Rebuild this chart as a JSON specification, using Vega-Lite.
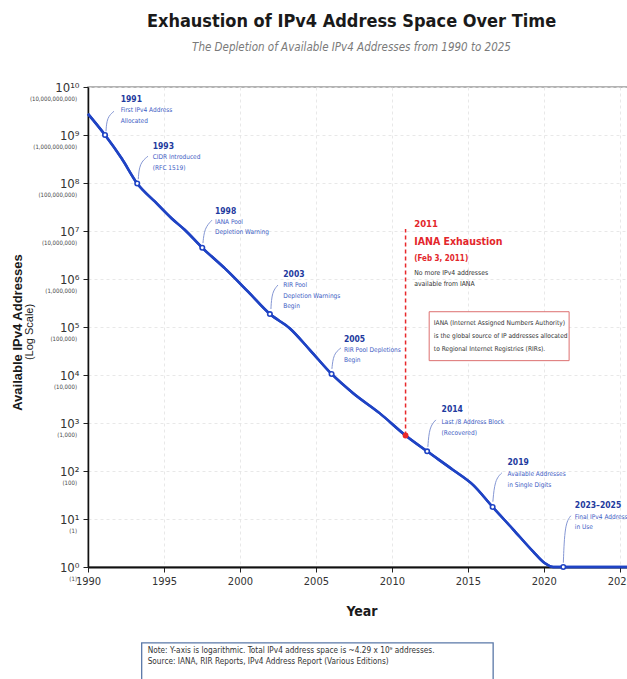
{
  "$schema": "https://vega.github.io/schema/vega-lite/v6.json",
  "width": 547,
  "height": 480,
  "autosize": "none",
  "padding": {"left": 88, "top": 87, "right": 0, "bottom": 112},
  "background": "white",
  "config": {
    "font": "Liberation Sans Narrow, DejaVu Sans Condensed, Liberation Sans, sans-serif",
    "view": {"stroke": "#9a9a9a", "strokeWidth": 1.5}
  },
  "title": {
    "text": "Exhaustion of IPv4 Address Space Over Time",
    "subtitle": "The Depletion of Available IPv4 Addresses from 1990 to 2025",
    "font": "Liberation Sans Narrow, DejaVu Sans Condensed, Liberation Sans, sans-serif",
    "subtitleFont": "Liberation Sans Narrow, DejaVu Sans Condensed, Liberation Sans, sans-serif",
    "fontSize": 18,
    "fontWeight": "bold",
    "color": "#1a1a1a",
    "subtitleFontSize": 11.5,
    "subtitleFontStyle": "italic",
    "subtitleColor": "#7a7a7a",
    "subtitlePadding": 11,
    "anchor": "middle",
    "frame": "group",
    "offset": 28,
    "dx": -10
  },
  "datasets": {
    "line": [
      {"year": 1990, "value": 2.75e9},
      {"year": 1991.12, "value": 1.0e9},
      {"year": 1992.22, "value": 3.24e8},
      {"year": 1993.24, "value": 9.77e7},
      {"year": 1994.41, "value": 4.07e7},
      {"year": 1995.51, "value": 1.82e7},
      {"year": 1996.38, "value": 1.05e7},
      {"year": 1997.52, "value": 4.47e6},
      {"year": 1999.01, "value": 1.66e6},
      {"year": 2000.55, "value": 5.37e5},
      {"year": 2001.97, "value": 1.86e5},
      {"year": 2003.29, "value": 9.33e4},
      {"year": 2004.61, "value": 3.31e4},
      {"year": 2006.03, "value": 1.05e4},
      {"year": 2007.45, "value": 4170},
      {"year": 2009.21, "value": 1585},
      {"year": 2010.9, "value": 550},
      {"year": 2012.32, "value": 257},
      {"year": 2014.03, "value": 105},
      {"year": 2015.34, "value": 51.3},
      {"year": 2016.63, "value": 17.8},
      {"year": 2017.99, "value": 6.03},
      {"year": 2019.3, "value": 2.09},
      {"year": 2020.07, "value": 1.2},
      {"year": 2020.62, "value": 1},
      {"year": 2021.28, "value": 1},
      {"year": 2026, "value": 1}
    ],
    "markers": [
      {"year": 1991.12, "value": 1.0e9, "kind": "event"},
      {"year": 1993.24, "value": 9.77e7, "kind": "event"},
      {"year": 1997.52, "value": 4.47e6, "kind": "event"},
      {"year": 2001.97, "value": 1.86e5, "kind": "event"},
      {"year": 2006.03, "value": 1.05e4, "kind": "event"},
      {"year": 2010.9, "value": 550, "kind": "exhaustion"},
      {"year": 2012.32, "value": 257, "kind": "event"},
      {"year": 2016.63, "value": 17.8, "kind": "event"},
      {"year": 2021.28, "value": 1, "kind": "event"}
    ],
    "leaders": [
      {"id": 1, "ord": 1, "year": 1991.184, "value": 1.197e9},
      {"id": 1, "ord": 2, "year": 1991.25, "value": 2.34e9},
      {"id": 1, "ord": 3, "year": 1991.711, "value": 3.12e9},
      {"id": 2, "ord": 1, "year": 1993.309, "value": 1.2e8},
      {"id": 2, "ord": 2, "year": 1993.388, "value": 2.58e8},
      {"id": 2, "ord": 3, "year": 1993.947, "value": 3.61e8},
      {"id": 3, "ord": 1, "year": 1997.566, "value": 5.6e6},
      {"id": 3, "ord": 2, "year": 1997.664, "value": 1.15e7},
      {"id": 3, "ord": 3, "year": 1998.158, "value": 1.68e7},
      {"id": 4, "ord": 1, "year": 2002.039, "value": 2.37e5},
      {"id": 4, "ord": 2, "year": 2002.105, "value": 5.35e5},
      {"id": 4, "ord": 3, "year": 2002.5, "value": 7.48e5},
      {"id": 5, "ord": 1, "year": 2006.053, "value": 1.34e4},
      {"id": 5, "ord": 2, "year": 2006.151, "value": 2.74e4},
      {"id": 5, "ord": 3, "year": 2006.645, "value": 3.66e4},
      {"id": 7, "ord": 1, "year": 2012.368, "value": 318},
      {"id": 7, "ord": 2, "year": 2012.467, "value": 830},
      {"id": 7, "ord": 3, "year": 2012.895, "value": 1161},
      {"id": 8, "ord": 1, "year": 2016.645, "value": 22.9},
      {"id": 8, "ord": 2, "year": 2016.776, "value": 65.5},
      {"id": 8, "ord": 3, "year": 2017.237, "value": 91.6},
      {"id": 9, "ord": 1, "year": 2021.283, "value": 1.229},
      {"id": 9, "ord": 2, "year": 2021.382, "value": 7.96},
      {"id": 9, "ord": 3, "year": 2021.776, "value": 11.7}
    ],
    "ylabels": [
      {"value": 1e10, "t": "(10,000,000,000)"},
      {"value": 1e9, "t": "(1,000,000,000)"},
      {"value": 1e8, "t": "(100,000,000)"},
      {"value": 1e7, "t": "(10,000,000)"},
      {"value": 1e6, "t": "(1,000,000)"},
      {"value": 1e5, "t": "(100,000)"},
      {"value": 1e4, "t": "(10,000)"},
      {"value": 1e3, "t": "(1,000)"},
      {"value": 1e2, "t": "(100)"},
      {"value": 1e1, "t": "(1)"},
      {"value": 1, "t": "(1)"}
    ],
    "boxes": [
      {"kind": "info", "x": 2012.454, "x2": 2021.664, "y": 2.08e5, "y2": 1.99e4},
      {"kind": "note", "x": 1993.533, "x2": 2016.664, "y": 0.02623, "y2": 0.0028}
    ],
    "ann": [
      {"k": "yr", "x": 1992.151, "y": 5.55e9, "t": "1991"},
      {"k": "ds", "x": 1992.151, "y": 3.27e9, "t": "First IPv4 Address"},
      {"k": "ds", "x": 1992.151, "y": 1.96e9, "t": "Allocated"},
      {"k": "yr", "x": 1994.257, "y": 5.92e8, "t": "1993"},
      {"k": "ds", "x": 1994.257, "y": 3.4e8, "t": "CIDR Introduced"},
      {"k": "ds", "x": 1994.257, "y": 2.06e8, "t": "(RFC 1519)"},
      {"k": "yr", "x": 1998.355, "y": 2.63e7, "t": "1998"},
      {"k": "ds", "x": 1998.355, "y": 1.55e7, "t": "IANA Pool"},
      {"k": "ds", "x": 1998.355, "y": 9.34e6, "t": "Depletion Warning"},
      {"k": "yr", "x": 2002.849, "y": 1.27e6, "t": "2003"},
      {"k": "ds", "x": 2002.849, "y": 7.48e5, "t": "RIR Pool"},
      {"k": "ds", "x": 2002.849, "y": 4.48e5, "t": "Depletion Warnings"},
      {"k": "ds", "x": 2002.849, "y": 2.74e5, "t": "Begin"},
      {"k": "yr", "x": 2006.842, "y": 5.62e4, "t": "2005"},
      {"k": "ds", "x": 2006.842, "y": 3.32e4, "t": "RIR Pool Depletions"},
      {"k": "ds", "x": 2006.842, "y": 2.06e4, "t": "Begin"},
      {"k": "yr", "x": 2013.27, "y": 1967, "t": "2014"},
      {"k": "ds", "x": 2013.27, "y": 1071, "t": "Last /8 Address Block"},
      {"k": "ds", "x": 2013.27, "y": 632, "t": "(Recovered)"},
      {"k": "yr", "x": 2017.612, "y": 157.5, "t": "2019"},
      {"k": "ds", "x": 2017.612, "y": 86.1, "t": "Available Addresses"},
      {"k": "ds", "x": 2017.612, "y": 51.6, "t": "in Single Digits"},
      {"k": "yr", "x": 2022.039, "y": 19.8, "t": "2023–2025"},
      {"k": "ds", "x": 2022.039, "y": 10.97, "t": "Final IPv4 Addresses"},
      {"k": "ds", "x": 2022.039, "y": 6.8, "t": "in Use"},
      {"k": "r1", "x": 2011.467, "y": 1.37e7, "t": "2011"},
      {"k": "r2", "x": 2011.467, "y": 5.78e6, "t": "IANA Exhaustion"},
      {"k": "r3", "x": 2011.467, "y": 2.6e6, "t": "(Feb 3, 2011)"},
      {"k": "dk", "x": 2011.467, "y": 1.35e6, "t": "No more IPv4 addresses"},
      {"k": "dk", "x": 2011.467, "y": 7.73e5, "t": "available from IANA"},
      {"k": "bx", "x": 2012.763, "y": 1.19e5, "t": "IANA (Internet Assigned Numbers Authority)"},
      {"k": "bx", "x": 2012.763, "y": 6.5e4, "t": "is the global source of IP addresses allocated"},
      {"k": "bx", "x": 2012.763, "y": 3.53e4, "t": "to Regional Internet Registries (RIRs)."},
      {"k": "nt", "x": 1993.928, "y": 0.01754, "t": "Note: Y-axis is logarithmic. Total IPv4 address space is ~4.29 x 10⁹ addresses."},
      {"k": "nt", "x": 1993.928, "y": 0.01055, "t": "Source: IANA, RIR Reports, IPv4 Address Report (Various Editions)"}
    ],
    "exh": [
      {"year": 2010.9, "value": 550, "top": 1.1e7}
    ],
    "ytitle": [
      {"t": "(Log Scale)"}
    ]
  },
  "layer": [
    {
      "data": {"name": "line"},
      "mark": {"type": "line", "color": "#1f43c4", "strokeWidth": 2.5, "interpolate": "monotone"},
      "encoding": {
        "x": {
          "field": "year",
          "type": "quantitative",
          "scale": {"domain": [1990, 2026], "nice": false, "zero": false},
          "axis": {
            "values": [1990, 1995, 2000, 2005, 2010, 2015, 2020, 2025],
            "format": "d",
            "title": "Year",
            "titleFontSize": 14,
            "titleFontWeight": "bold",
            "titleColor": "#1a1a1a",
            "titleY": 44.5,
            "titleBaseline": "middle",
            "labelFontSize": 11,
            "labelColor": "#333333",
            "labelPadding": 3,
            "labelFlush": false,
            "tickSize": 5,
            "tickColor": "#222222",
            "domainColor": "#111111",
            "domainWidth": 2,
            "grid": true,
            "gridColor": "#e2e2e2",
            "gridDash": [3, 3],
            "gridWidth": 0.8
          }
        },
        "y": {
          "field": "value",
          "type": "quantitative",
          "scale": {"type": "log", "domain": [1, 1e10], "nice": false},
          "axis": {
            "values": [1, 10, 100, 1000, 10000, 100000, 1000000, 10000000, 100000000, 1000000000, 10000000000],
            "labelExpr": "'10' + ['⁰','¹','²','³','⁴','⁵','⁶','⁷','⁸','⁹','¹⁰'][round(log(datum.value)/LN10)]",
            "labelFontSize": 13,
            "labelColor": "#333333",
            "labelPadding": 4,
            "tickSize": 5,
            "tickColor": "#222222",
            "domainColor": "#111111",
            "domainWidth": 1.5,
            "grid": true,
            "gridColor": "#e2e2e2",
            "gridDash": [3, 3],
            "gridWidth": 0.8,
            "title": "Available IPv4 Addresses",
            "titleFont": "Liberation Sans",
            "titleFontSize": 13,
            "titleFontWeight": "bold",
            "titleColor": "#1a1a1a",
            "titleAngle": 270,
            "titleX": -71,
            "titleY": 245,
            "titleAlign": "center",
            "titleBaseline": "middle"
          }
        }
      }
    },
    {
      "data": {"name": "exh"},
      "mark": {"type": "rule", "color": "#e8282b", "strokeWidth": 1.5, "strokeDash": [4, 3]},
      "encoding": {
        "x": {"field": "year", "type": "quantitative"},
        "y": {"field": "value", "type": "quantitative"},
        "y2": {"field": "top"}
      }
    },
    {
      "data": {"name": "line"},
      "mark": {"type": "line", "color": "#1f43c4", "strokeWidth": 2.5, "interpolate": "monotone"},
      "encoding": {
        "x": {"field": "year", "type": "quantitative"},
        "y": {"field": "value", "type": "quantitative"}
      }
    },
    {
      "data": {"name": "leaders"},
      "mark": {"type": "line", "color": "#8597d4", "strokeWidth": 1, "interpolate": "basis"},
      "encoding": {
        "x": {"field": "year", "type": "quantitative"},
        "y": {"field": "value", "type": "quantitative"},
        "detail": {"field": "id"},
        "order": {"field": "ord", "type": "quantitative"}
      }
    },
    {
      "data": {"name": "markers"},
      "transform": [{"filter": "datum.kind === 'event'"}],
      "mark": {"type": "point", "shape": "circle", "filled": true, "fill": "white", "stroke": "#1f43c4", "strokeWidth": 1.6, "size": 20, "opacity": 1},
      "encoding": {
        "x": {"field": "year", "type": "quantitative"},
        "y": {"field": "value", "type": "quantitative"}
      }
    },
    {
      "data": {"name": "markers"},
      "transform": [{"filter": "datum.kind === 'exhaustion'"}],
      "mark": {"type": "point", "shape": "circle", "filled": true, "color": "#e8282b", "size": 34, "opacity": 1},
      "encoding": {
        "x": {"field": "year", "type": "quantitative"},
        "y": {"field": "value", "type": "quantitative"}
      }
    },
    {
      "data": {"name": "boxes"},
      "transform": [{"filter": "datum.kind === 'info'"}],
      "mark": {"type": "rect", "fill": "white", "stroke": "#dd7070", "strokeWidth": 1},
      "encoding": {
        "x": {"field": "x", "type": "quantitative"},
        "x2": {"field": "x2"},
        "y": {"field": "y", "type": "quantitative"},
        "y2": {"field": "y2"}
      }
    },
    {
      "data": {"name": "boxes"},
      "transform": [{"filter": "datum.kind === 'note'"}],
      "mark": {"type": "rect", "fill": "white", "stroke": "#5a78a8", "strokeWidth": 1.3},
      "encoding": {
        "x": {"field": "x", "type": "quantitative"},
        "x2": {"field": "x2"},
        "y": {"field": "y", "type": "quantitative"},
        "y2": {"field": "y2"}
      }
    },
    {
      "data": {"name": "ylabels"},
      "mark": {"type": "text", "align": "right", "baseline": "middle", "dx": -11, "dy": 12, "fontSize": 6, "color": "#444444"},
      "encoding": {
        "x": {"datum": 1990},
        "y": {"field": "value", "type": "quantitative"},
        "text": {"field": "t"}
      }
    },
    {
      "data": {"name": "ytitle"},
      "mark": {"type": "text", "align": "center", "baseline": "middle", "angle": 270, "dy": -58, "fontSize": 11, "font": "Liberation Sans", "color": "#1a1a1a"},
      "encoding": {
        "x": {"datum": 1990},
        "y": {"datum": 78700},
        "text": {"field": "t"}
      }
    },
    {
      "data": {"name": "ann"},
      "transform": [{"filter": "datum.k === 'yr'"}],
      "mark": {"type": "text", "align": "left", "baseline": "middle", "fontSize": 8.5, "fontWeight": "bold", "color": "#1e3a9e"},
      "encoding": {
        "x": {"field": "x", "type": "quantitative"},
        "y": {"field": "y", "type": "quantitative"},
        "text": {"field": "t"}
      }
    },
    {
      "data": {"name": "ann"},
      "transform": [{"filter": "datum.k === 'ds'"}],
      "mark": {"type": "text", "align": "left", "baseline": "middle", "fontSize": 6.5, "color": "#3d5cc4"},
      "encoding": {
        "x": {"field": "x", "type": "quantitative"},
        "y": {"field": "y", "type": "quantitative"},
        "text": {"field": "t"}
      }
    },
    {
      "data": {"name": "ann"},
      "transform": [{"filter": "datum.k === 'r1'"}],
      "mark": {"type": "text", "align": "left", "baseline": "middle", "fontSize": 9.5, "fontWeight": "bold", "color": "#e3262b"},
      "encoding": {
        "x": {"field": "x", "type": "quantitative"},
        "y": {"field": "y", "type": "quantitative"},
        "text": {"field": "t"}
      }
    },
    {
      "data": {"name": "ann"},
      "transform": [{"filter": "datum.k === 'r2'"}],
      "mark": {"type": "text", "align": "left", "baseline": "middle", "fontSize": 10.5, "fontWeight": "bold", "color": "#e3262b"},
      "encoding": {
        "x": {"field": "x", "type": "quantitative"},
        "y": {"field": "y", "type": "quantitative"},
        "text": {"field": "t"}
      }
    },
    {
      "data": {"name": "ann"},
      "transform": [{"filter": "datum.k === 'r3'"}],
      "mark": {"type": "text", "align": "left", "baseline": "middle", "fontSize": 8, "fontWeight": "bold", "color": "#e3262b"},
      "encoding": {
        "x": {"field": "x", "type": "quantitative"},
        "y": {"field": "y", "type": "quantitative"},
        "text": {"field": "t"}
      }
    },
    {
      "data": {"name": "ann"},
      "transform": [{"filter": "datum.k === 'dk'"}],
      "mark": {"type": "text", "align": "left", "baseline": "middle", "fontSize": 6.8, "color": "#333333"},
      "encoding": {
        "x": {"field": "x", "type": "quantitative"},
        "y": {"field": "y", "type": "quantitative"},
        "text": {"field": "t"}
      }
    },
    {
      "data": {"name": "ann"},
      "transform": [{"filter": "datum.k === 'bx'"}],
      "mark": {"type": "text", "align": "left", "baseline": "middle", "fontSize": 6.6, "color": "#333333"},
      "encoding": {
        "x": {"field": "x", "type": "quantitative"},
        "y": {"field": "y", "type": "quantitative"},
        "text": {"field": "t"}
      }
    },
    {
      "data": {"name": "ann"},
      "transform": [{"filter": "datum.k === 'nt'"}],
      "mark": {"type": "text", "align": "left", "baseline": "middle", "fontSize": 8.2, "color": "#333333"},
      "encoding": {
        "x": {"field": "x", "type": "quantitative"},
        "y": {"field": "y", "type": "quantitative"},
        "text": {"field": "t"}
      }
    }
  ]
}
